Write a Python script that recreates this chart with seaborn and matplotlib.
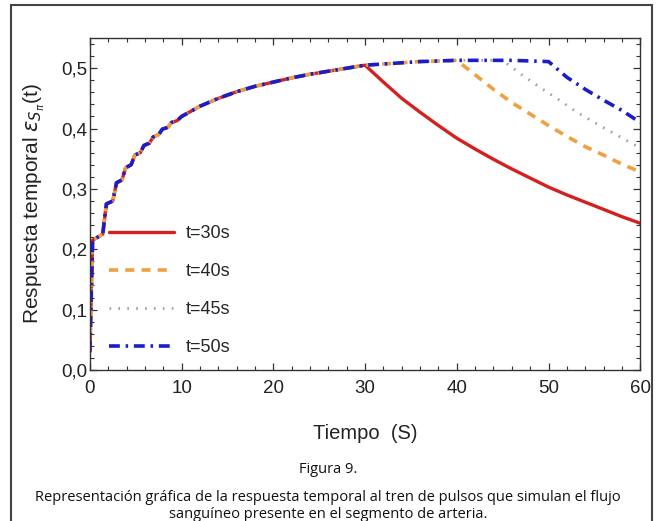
import numpy as np
import pandas as pd
import seaborn as sns
import matplotlib.pyplot as plt
from matplotlib.ticker import MultipleLocator, FuncFormatter
from matplotlib.patches import Rectangle

# common charging curve (pulse train)
rise_t = [0, 0.3, 1.4, 1.8, 2.5, 2.9, 3.5, 3.9, 4.5, 4.9, 5.5, 5.9, 6.5, 6.9,
          7.5, 7.9, 8.5, 8.9, 9.5, 10, 12, 14, 16, 18, 20, 22, 24, 26, 28, 30,
          32, 34, 36, 38, 40]
rise_v = [0.03, 0.215, 0.225, 0.275, 0.28, 0.31, 0.315, 0.335, 0.34, 0.356,
          0.36, 0.372, 0.376, 0.386, 0.39, 0.399, 0.402, 0.41, 0.413, 0.42,
          0.437, 0.45, 0.461, 0.47, 0.477, 0.484, 0.49, 0.495, 0.5, 0.505,
          0.507, 0.509, 0.511, 0.512, 0.513]
plateau_t = [42, 44, 45, 46, 48, 50]
plateau_v = [0.513, 0.513, 0.513, 0.513, 0.512, 0.511]

# relaxation after the pulses stop
off30_t = [32, 34, 36, 38, 40, 42, 44, 46, 48, 50, 52, 54, 56, 58, 60]
off30_v = [0.477, 0.45, 0.427, 0.405, 0.384, 0.366, 0.349, 0.333, 0.318,
           0.303, 0.29, 0.278, 0.266, 0.254, 0.243]
off40_t = [42, 44, 46, 48, 50, 52, 54, 56, 58, 60]
off40_v = [0.489, 0.465, 0.443, 0.424, 0.405, 0.387, 0.37, 0.356, 0.341, 0.328]
off45_t = [47, 49, 51, 53, 55, 57, 59, 60]
off45_v = [0.49, 0.469, 0.449, 0.428, 0.41, 0.393, 0.376, 0.368]
off50_t = [52, 54, 56, 58, 60]
off50_v = [0.485, 0.465, 0.447, 0.43, 0.41]

labels = ["t=30s", "t=40s", "t=45s", "t=50s"]
colors = ["#d4201e", "#f0a040", "#a8a088", "#1c1cc8"]
styles = ["-", (0, (2.5, 2.0)), (0, (0.6, 2.6)), (0, (3.0, 1.6, 0.7, 1.6))]
widths = [2.4, 2.6, 2.0, 2.6]


def series(stop, off_t, off_v):
    t = [x for x in rise_t if x <= stop]
    v = rise_v[:len(t)]
    pt = [x for x in plateau_t if x <= stop]
    return t + pt + off_t, v + plateau_v[:len(pt)] + off_v


curves = [series(30, off30_t, off30_v), series(40, off40_t, off40_v),
          series(45, off45_t, off45_v), series(50, off50_t, off50_v)]

sns.set_style("ticks")
plt.rcParams['font.family'] = ['Liberation Sans', 'DejaVu Sans']
plt.rcParams['mathtext.fontset'] = 'dejavusans'

fig = plt.figure(figsize=(6.56, 5.21), dpi=100)
ax = fig.add_axes([0.137, 0.29, 0.839, 0.637])

for (t, v), lab, c, ls, lw in zip(curves, labels, colors, styles, widths):
    df = pd.DataFrame({"t": t, "v": v})
    sns.lineplot(data=df, x="t", y="v", ax=ax, color=c, linestyle=ls,
                 linewidth=lw, label=lab, estimator=None, sort=False)

ax.set_xlim(0, 60)
ax.set_ylim(0, 0.55)
ax.xaxis.set_major_locator(MultipleLocator(10))
ax.xaxis.set_minor_locator(MultipleLocator(2))
ax.yaxis.set_major_locator(MultipleLocator(0.1))
ax.yaxis.set_minor_locator(MultipleLocator(0.02))
ax.yaxis.set_major_formatter(FuncFormatter(lambda y, p: f"{y:.1f}".replace(".", ",")))
ax.tick_params(which="both", direction="in", top=True, right=True,
               colors="#333333", labelcolor="#222222", labelsize=13.5)
ax.tick_params(axis="x", pad=7)
ax.tick_params(axis="y", pad=2)
ax.tick_params(which="major", length=5, width=0.9)
ax.tick_params(which="minor", length=3, width=0.8)
for s in ax.spines.values():
    s.set_color("#333333")
    s.set_linewidth(1.0)

ax.set_xlabel("Tiempo  (S)", fontsize=14.5, color="#222222", labelpad=20)
ax.set_ylabel(r"Respuesta temporal $\epsilon_{S_{\pi}}$(t)", fontsize=15,
              color="#222222", labelpad=10)

leg = ax.legend(loc="lower left", bbox_to_anchor=(0.006, -0.008), frameon=False,
                fontsize=13, handlelength=3.6, labelspacing=1.17,
                handletextpad=0.6)

fig.text(0.5, 0.098, "Figura 9.", ha="center", va="center",
         fontsize=10.5, family=["Open Sans", "DejaVu Sans"], color="#111111")
fig.text(0.5, 0.029, "Representación gráfica de la respuesta temporal al tren de pulsos que simulan el flujo\n"
         "sanguíneo presente en el segmento de arteria.", ha="center", va="center",
         fontsize=10.5, family=["Open Sans", "DejaVu Sans"], color="#111111",
         linespacing=1.2)

fig.patches.append(Rectangle((0.0168, -0.05), 0.977, 1.04, transform=fig.transFigure,
                             fill=False, edgecolor="#444444", linewidth=1.5))

plt.savefig("out.png", dpi=100)
plt.close()
